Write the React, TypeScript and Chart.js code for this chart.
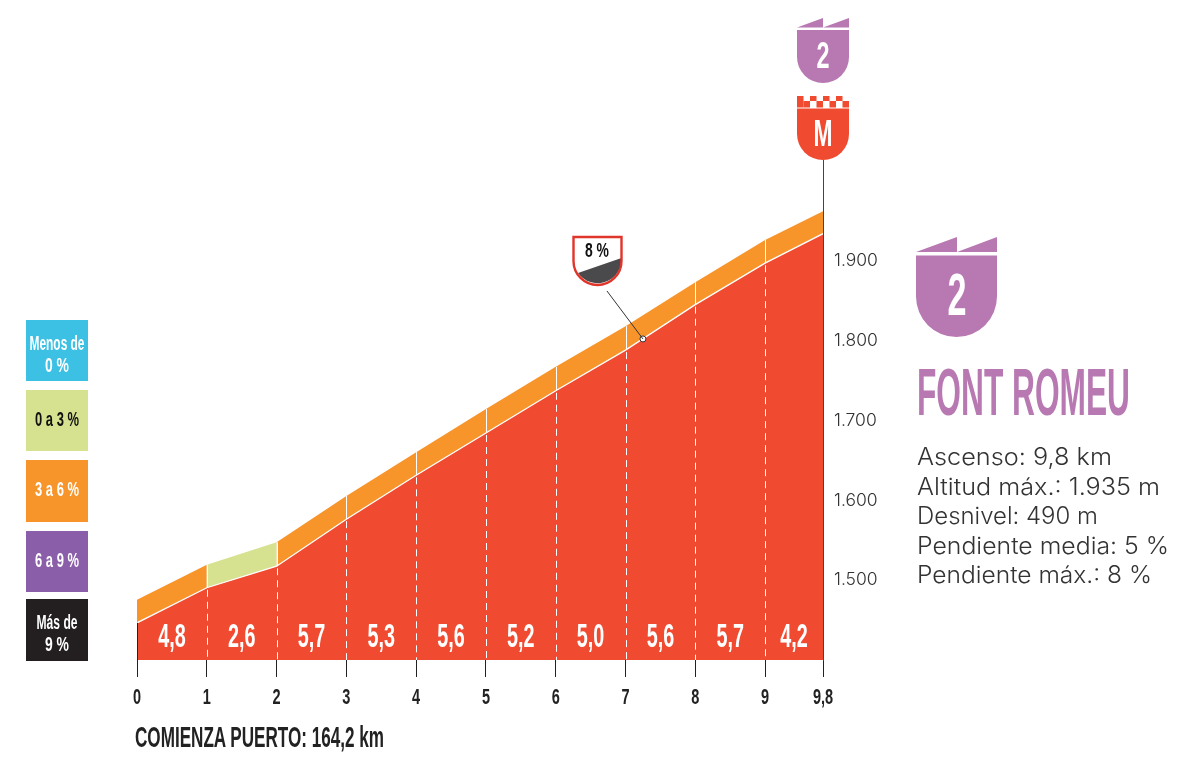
import React, { useEffect, useRef } from "react";
import { Chart, registerables } from "chart.js";

Chart.register(...registerables);

const NARROW = "'Liberation Sans Narrow', 'Liberation Sans', sans-serif";
const LIGHT = "Inter, Lato, sans-serif";
const RED = "#f04b30";
const PURPLE = "#b879b3";

// profile (the last km sits a touch wide on the poster)
const kmMarks = [0, 1, 2, 3, 4, 5, 6, 7, 8, 9, 9.83];
const kmLabels = ["0", "1", "2", "3", "4", "5", "6", "7", "8", "9", "9,8"];
const elevation = [1445, 1489, 1516, 1575, 1630, 1683, 1736, 1787, 1844, 1896, 1933];
const bandTop = [1474, 1518, 1546, 1604, 1659, 1713, 1766, 1817, 1872, 1925, 1961];
const grades = [4.8, 2.6, 5.7, 5.3, 5.6, 5.2, 5.0, 5.6, 5.7, 4.2];
const altitudeTicks = [1500, 1600, 1700, 1800, 1900];
const altitudeLabels = ["1.500", "1.600", "1.700", "1.800", "1.900"];
const steepestKm = [7.25];
const steepestAltitude = [1801];

const legendLabels = [["Menos de", "0 %"], ["0 a 3 %"], ["3 a 6 %"], ["6 a 9 %"], ["Más de", "9 %"]];
const legendColors = ["#3cc0e4", "#d6e28f", "#f7952b", "#8a5ea8", "#231f20"];
const legendText = ["#fff", "#111", "#fff", "#fff", "#fff"];
const legendTops = [320, 390, 460, 531, 599];
const legendHeights = [61, 61, 62, 61, 62];

const facts = [
  "Ascenso: 9,8 km",
  "Altitud máx.: 1.935 m",
  "Desnivel: 490 m",
  "Pendiente media: 5 %",
  "Pendiente máx.: 8 %",
];
const factWidths = [195, 243, 181, 252, 235];

const gradeColor = (g: number) => {
  if (g < 0) return legendColors[0];
  if (g < 3) return legendColors[1];
  if (g < 6) return legendColors[2];
  if (g < 9) return legendColors[3];
  return legendColors[4];
};

const squeezedText = (ctx: any, text: string, x: number, y: number, sx: number) => {
  ctx.save();
  ctx.translate(x, y);
  ctx.scale(sx, 1);
  ctx.fillText(text, 0, 0);
  ctx.restore();
};

const profileDecor = {
  id: "profileDecor",
  afterDatasetsDraw(chart: any) {
    const { ctx, scales } = chart;
    const x = scales.x;
    const y = scales.y;
    const bottom = y.bottom;
    ctx.save();

    // km separators, solid in the band and dashed in the red
    ctx.lineWidth = 1;
    ctx.strokeStyle = "#fff";
    kmMarks.slice(1, -1).forEach((km, i) => {
      const px = Math.round(x.getPixelForValue(km)) + 0.5;
      ctx.setLineDash([]);
      ctx.beginPath();
      ctx.moveTo(px, y.getPixelForValue(bandTop[i + 1]));
      ctx.lineTo(px, y.getPixelForValue(elevation[i + 1]));
      ctx.stroke();
      ctx.setLineDash([7, 5]);
      ctx.beginPath();
      ctx.moveTo(px, y.getPixelForValue(elevation[i + 1]) + 2);
      ctx.lineTo(px, bottom);
      ctx.stroke();
    });
    ctx.setLineDash([]);

    // black start line
    const x0 = Math.round(x.getPixelForValue(0)) + 0.5;
    ctx.strokeStyle = "#222";
    ctx.beginPath();
    ctx.moveTo(x0, y.getPixelForValue(elevation[0]));
    ctx.lineTo(x0, bottom);
    ctx.stroke();

    // grade numbers, squeezed to the poster's condensed look
    ctx.fillStyle = "#fff";
    ctx.font = `700 33px ${NARROW}`;
    ctx.textAlign = "center";
    ctx.textBaseline = "alphabetic";
    grades.forEach((g, i) => {
      const mid = x.getPixelForValue((kmMarks[i] + kmMarks[i + 1]) / 2);
      squeezedText(ctx, g.toFixed(1).replace(".", ","), mid, bottom - 13, 0.6);
    });

    // km labels
    ctx.fillStyle = "#222";
    ctx.font = `700 22px ${NARROW}`;
    kmMarks.forEach((km, i) => {
      squeezedText(ctx, kmLabels[i], x.getPixelForValue(km), bottom + 44, 0.66);
    });

    // altitude labels
    ctx.fillStyle = "#333";
    ctx.font = `300 17.5px ${LIGHT}`;
    ctx.textAlign = "left";
    ctx.textBaseline = "middle";
    altitudeTicks.forEach((v, i) => {
      ctx.fillText(altitudeLabels[i], y.left + 11, y.getPixelForValue(v) + 1);
    });

    // leader from the steepest point up to its badge
    const dx = x.getPixelForValue(steepestKm[0]);
    const dy = y.getPixelForValue(steepestAltitude[0]);
    ctx.strokeStyle = "#333";
    ctx.beginPath();
    ctx.moveTo(dx, dy);
    ctx.lineTo(dx - 36, dy - 48);
    ctx.stroke();
    ctx.restore();
  },
};

const shieldPath = (x: number, w: number, top: number, bottom: number) => {
  const r = w / 2;
  return `M${x} ${top}H${x + w}V${bottom - r}A${r} ${r} 0 0 1 ${x} ${bottom - r}Z`;
};

const Squeezed = ({ x, y, w, size, fill, anchor = "start", weight = 700, children }: any) => (
  <text
    x={x}
    y={y}
    fill={fill}
    fontSize={size}
    fontWeight={weight}
    fontFamily={NARROW}
    textAnchor={anchor}
    textLength={w}
    lengthAdjust="spacingAndGlyphs"
  >
    {children}
  </text>
);

const Overlay = () => (
  <svg width={1200} height={765} style={{ position: "absolute", left: 0, top: 0, pointerEvents: "none" }}>
    {/* colour key */}
    {legendLabels.map((lines, i) => (
      <g key={i}>
        <rect x={26} y={legendTops[i]} width={62} height={legendHeights[i]} fill={legendColors[i]} />
        {lines.map((t, j) => (
          <Squeezed
            key={t}
            x={57}
            y={legendTops[i] + (lines.length === 1 ? 36 : 30 + j * 22)}
            w={t.length > 4 ? (t === "Menos de" ? 55 : t === "Más de" ? 41 : 44) : 24}
            size={20}
            fill={legendText[i]}
            anchor="middle"
          >
            {t}
          </Squeezed>
        ))}
      </g>
    ))}

    {/* category badge above the finish */}
    <path d="M797 27.5L823 18V27.5L849 18V27.5Z" fill={PURPLE} />
    <path d={shieldPath(797, 52, 30, 83)} fill={PURPLE} />
    <Squeezed x={823} y={68} w={13} size={37} fill="#fff" anchor="middle">2</Squeezed>

    {/* finish badge */}
    {[0, 1, 2, 3].map((i) => (
      <rect key={i} x={797 + i * 13} y={96} width={6.5} height={5} fill={RED} />
    ))}
    {[0, 1, 2, 3].map((i) => (
      <rect key={i} x={803.5 + i * 13} y={101} width={6.5} height={6.5} fill={RED} />
    ))}
    <rect x={797} y={101} width={6.5} height={6.5} fill={RED} />
    <path d={shieldPath(797, 52, 108.5, 160)} fill={RED} />
    <Squeezed x={823} y={146} w={19} size={37} fill="#fff" anchor="middle">M</Squeezed>

    {/* steepest grade badge */}
    <path d={shieldPath(573.5, 48, 237, 285)} fill="#fff" />
    <path d="M578 273L621.5 258V261A24 24 0 0 1 578 273Z" fill="#4a4a4c" />
    <path d={shieldPath(573.5, 48, 237, 285)} fill="none" stroke="#e0352b" strokeWidth={2.4} />
    <Squeezed x={597} y={257} w={24} size={21} fill="#111" anchor="middle">8 %</Squeezed>

    {/* big badge and climb sheet */}
    <path d="M916 252L957 237V252L997 237V252Z" fill={PURPLE} />
    <path d={shieldPath(916, 81, 255.5, 337)} fill={PURPLE} />
    <Squeezed x={957} y={315} w={19} size={60} fill="#fff" anchor="middle">2</Squeezed>

    <Squeezed x={917} y={415} w={213} size={66} fill={PURPLE}>FONT ROMEU</Squeezed>
    {facts.map((t, i) => (
      <text
        key={t}
        x={917}
        y={465 + i * 29.5}
        fontSize={23.5}
        fontWeight={300}
        fill="#333"
        fontFamily={LIGHT}
        textLength={factWidths[i]}
        lengthAdjust="spacingAndGlyphs"
      >
        {t}
      </text>
    ))}

    <Squeezed x={135} y={747} w={249} size={30} fill="#222">COMIENZA PUERTO: 164,2 km</Squeezed>
  </svg>
);

export default function App() {
  const canvasRef = useRef<HTMLCanvasElement | null>(null);

  useEffect(() => {
    if (!canvasRef.current) return;
    const chart = new Chart(canvasRef.current, {
      type: "line",
      data: {
        datasets: [
          {
            type: "scatter",
            data: steepestKm.map((km, i) => ({ x: km, y: steepestAltitude[i] })),
            pointRadius: 3,
            pointBackgroundColor: "#fff",
            pointBorderColor: "#333",
            pointBorderWidth: 1,
            order: 0,
          },
          {
            label: "Altitud",
            data: kmMarks.map((km, i) => ({ x: km, y: elevation[i] })),
            borderColor: "#fff",
            borderWidth: 1.3,
            backgroundColor: RED,
            fill: "start",
            pointRadius: 0,
            tension: 0,
            order: 1,
          },
          {
            label: "Pendiente",
            data: kmMarks.map((km, i) => ({ x: km, y: bandTop[i] })),
            borderWidth: 0,
            borderColor: "transparent",
            backgroundColor: legendColors[2],
            fill: { target: 1 },
            pointRadius: 0,
            tension: 0,
            segment: {
              backgroundColor: (ctx: any) => gradeColor(grades[ctx.p0DataIndex]),
            },
            order: 2,
          },
        ],
      } as any,
      options: {
        responsive: false,
        animation: false,
        devicePixelRatio: 1,
        layout: { padding: { left: 137, right: 317, top: 160, bottom: 55 } },
        plugins: { legend: { display: false }, tooltip: { enabled: false } },
        scales: {
          x: {
            type: "linear",
            min: 0,
            max: 9.83,
            afterFit: (s: any) => { s.height = 50; },
            afterBuildTicks: (s: any) => { s.ticks = kmMarks.map((value) => ({ value })); },
            grid: { drawOnChartArea: false, tickLength: 17, tickColor: "#222", color: "#222" },
            border: { display: false },
            ticks: { display: false, autoSkip: false, maxRotation: 0 },
          },
          y: {
            type: "linear",
            position: "right",
            min: 1398.4,
            max: 2025.4,
            afterFit: (s: any) => { s.width = 60; },
            afterBuildTicks: (s: any) => { s.ticks = altitudeTicks.map((value) => ({ value })); },
            grid: { drawOnChartArea: false, drawTicks: false },
            border: { display: true, color: "#444", width: 1 },
            ticks: { display: false },
          },
        },
      },
      plugins: [profileDecor],
    } as any);
    return () => chart.destroy();
  }, []);

  return (
    <div style={{ position: "absolute", left: 0, top: 0, width: 1200, height: 765, background: "#fff" }}>
      <canvas ref={canvasRef} width={1200} height={765} style={{ display: "block" }} />
      <Overlay />
    </div>
  );
}
